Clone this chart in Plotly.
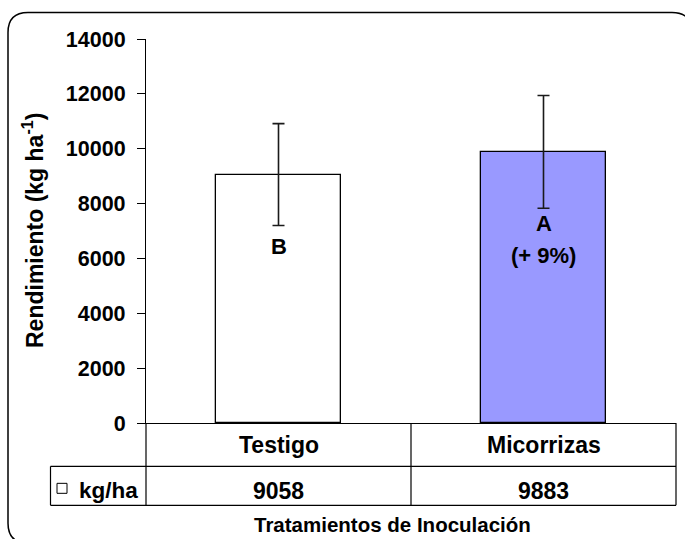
import plotly.graph_objects as go

categories = ["Testigo", "Micorrizas"]
rendimiento = [9058, 9883]
error_sd = [1855, 2055]
letters = ["B", "A"]
table_label = "kg/ha"
y_title = "Rendimiento (kg ha<sup>-1</sup>)"
x_title = "Tratamientos de Inoculación"
y_ticks = [0, 2000, 4000, 6000, 8000, 10000, 12000, 14000]

W, H = 685, 539
L, R, T, B = 146, 9, 38.5, 115.5
pw, ph = W - L - R, H - T - B

def px(x):  # pixel x -> paper
    return (x - L) / pw

def py(y):  # pixel y -> paper
    return (H - B - y) / ph

def F(size):
    return dict(family="Liberation Sans, Arial, sans-serif", color="black", size=size, weight="bold")

xs = list(range(len(categories)))

fig = go.Figure()
fig.add_trace(go.Bar(
    x=xs, y=rendimiento, width=0.475,
    marker=dict(color=["#FFFFFF", "#9999FF"], line=dict(color="black", width=1.3)),
    error_y=dict(type="data", array=error_sd, visible=True, color="#1a1a1a", thickness=1.6, width=6),
    showlegend=False, hoverinfo="skip",
))

def A(size, **kw):
    d = dict(showarrow=False, font=F(size), xanchor="center", yanchor="middle")
    d.update(kw)
    return d

ann = []
pct = round((rendimiento[1] - rendimiento[0]) / rendimiento[0] * 100)
for i, (v, l) in enumerate(zip(rendimiento, letters)):
    ann.append(A(22, x=i, y=v - 2620, xref="x", yref="y", text=l))
ann.append(A(22, x=1, y=rendimiento[1] - 2620, xref="x", yref="y", text=f"(+ {pct}%)", yshift=-32))

for i, (c, v) in enumerate(zip(categories, rendimiento)):
    ann.append(A(23, x=i, y=py(445.5), xref="x", yref="paper", text=c))
    ann.append(A(23, x=i, y=py(491.5), xref="x", yref="paper", text=str(v)))
ann.append(A(22.5, x=px(77), y=py(491.5), xref="paper", yref="paper", text=table_label, xanchor="left"))
ann.append(A(20.5, x=px(392), y=py(525), xref="paper", yref="paper", text=x_title))
ann.append(A(23, x=px(33), y=0.5, xref="paper", yref="paper", text=y_title, textangle=-90))

line = dict(color="black", width=1.2)
shapes = [
    dict(type="line", xref="paper", yref="paper", x0=0, x1=0, y0=0, y1=py(506), line=line),
    dict(type="line", xref="x", yref="paper", x0=0.5, x1=0.5, y0=0, y1=py(506), line=line),
    dict(type="line", xref="paper", yref="paper", x0=1, x1=1, y0=0, y1=py(506), line=line),
    dict(type="line", xref="paper", yref="paper", x0=px(50.5), x1=px(50.5), y0=py(467), y1=py(506), line=line),
    dict(type="line", xref="paper", yref="paper", x0=px(50.5), x1=1, y0=py(467), y1=py(467), line=line),
    dict(type="line", xref="paper", yref="paper", x0=px(50.5), x1=1, y0=py(506), y1=py(506), line=line),
    dict(type="rect", xref="paper", yref="paper", x0=px(57), x1=px(67), y0=py(484), y1=py(494),
         line=dict(color="black", width=1), fillcolor="white"),
]
x0, x1, y0, y1, r = 8, 692, 12, 544, 20
path = (f"M {px(x0 + r)} {py(y0)} L {px(x1 - r)} {py(y0)} Q {px(x1)} {py(y0)} {px(x1)} {py(y0 + r)} "
        f"L {px(x1)} {py(y1 - r)} Q {px(x1)} {py(y1)} {px(x1 - r)} {py(y1)} "
        f"L {px(x0 + r)} {py(y1)} Q {px(x0)} {py(y1)} {px(x0)} {py(y1 - r)} "
        f"L {px(x0)} {py(y0 + r)} Q {px(x0)} {py(y0)} {px(x0 + r)} {py(y0)} Z")
shapes.append(dict(type="path", xref="paper", yref="paper", path=path, line=dict(color="black", width=1.5)))

fig.update_layout(
    width=W, height=H,
    margin=dict(l=L, r=R, t=T, b=B, pad=0),
    paper_bgcolor="white", plot_bgcolor="white",
    font=F(21),
    bargap=0,
    annotations=ann, shapes=shapes,
    xaxis=dict(range=[-0.5, len(categories) - 0.5], showticklabels=False, ticks="",
               showline=True, linecolor="black", linewidth=1.2, showgrid=False, zeroline=False,
               fixedrange=True),
    yaxis=dict(range=[0, 14000], tickvals=y_ticks, ticktext=[str(v) for v in y_ticks],
               ticks="outside", ticklen=8, tickwidth=1.2,
               tickcolor="black", showline=True, linecolor="black", linewidth=1.2,
               showgrid=False, zeroline=False, tickfont=F(21.5), ticklabelstandoff=7, fixedrange=True),
)
fig.write_html("out.html", config={"displayModeBar": False},
               post_script="document.body.style.margin='0';document.body.style.overflow='hidden';")
